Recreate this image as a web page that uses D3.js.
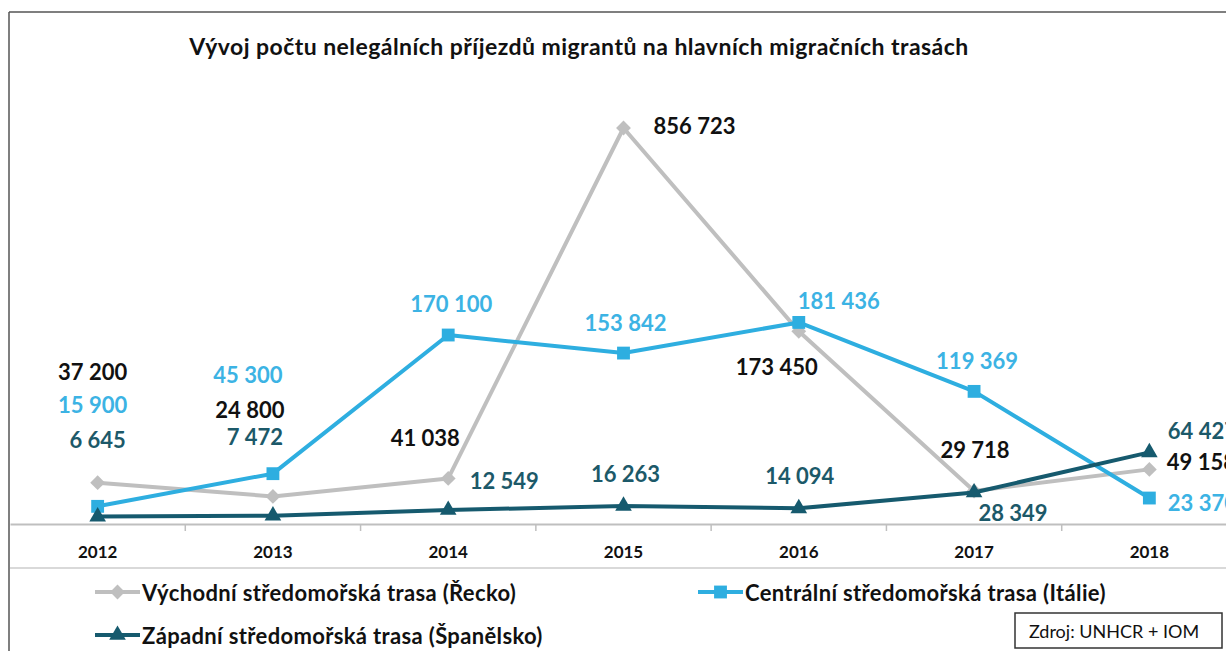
<!DOCTYPE html>
<html>
<head>
<meta charset="utf-8">
<script src="https://cdn.jsdelivr.net/npm/d3@7"></script>
<style>
  body { margin: 0; background: #fff; }
  svg text { font-family: Lato, "Open Sans", sans-serif; }
</style>
</head>
<body>
<div id="chart"></div>
<script>
"use strict"

// data
let years = ["2012", "2013", "2014", "2015", "2016", "2017", "2018"];
let seriesNames = [
    "Východní středomořská trasa (Řecko)",
    "Centrální středomořská trasa (Itálie)",
    "Západní středomořská trasa (Španělsko)"
];
let greece = [37200, 24800, 41038, 856723, 173450, 29718, 49158];
let italy = [15900, 45300, 170100, 153842, 181436, 119369, 23370];
let spain = [6645, 7472, 12549, 16263, 14094, 28349, 64427];
let titleText = "Vývoj počtu nelegálních příjezdů migrantů na hlavních migračních trasách";
let sourceText = "Zdroj: UNHCR + IOM";

// label placement relative to each point (dx, dy)
let greeceLabelPos = [[-5, -111], [-23, -87], [-23, -41], [71, -3], [-22, 35], [1, -41], [52, -8]];
let italyLabelPos = [[-5, -102], [-25, -99], [3, -32], [2, -31], [40, -22], [3, -31], [53, 4]];
let spainLabelPos = [[0, -77], [-18, -79], [56, -30], [2, -32], [1, -33], [39, 20], [53, -22]];

let width = 1226, height = 651;

let svg = d3.select("#chart").append("svg")
    .attr("width", width)
    .attr("height", height)

// frame
svg.append("line").attr("x1", 9).attr("x2", width).attr("y1", 12).attr("y2", 12)
    .style("stroke", "#555").style("stroke-width", 1.5)
svg.append("line").attr("x1", 9).attr("x2", 9).attr("y1", 12).attr("y2", height)
    .style("stroke", "#555").style("stroke-width", 1.5)

svg.append("text")
    .attr("x", 579)
    .attr("y", 55)
    .attr("text-anchor", "middle")
    .style("font-size", "23px")
    .style("letter-spacing", "0.45px")
    .style("font-weight", "bold")
    .style("fill", "#111")
    .text(titleText)

let x = d3.scaleBand()
    .domain(years)
    .range([10, 1237])
    .paddingInner(0)
    .paddingOuter(0);

let cx = function(d){ return x(d) + x.bandwidth() / 2; }

// linear up to 200 000, compressed above (the 2015 peak)
let y = d3.scaleLinear()
    .domain([0, 200000, 856723])
    .range([524, 301.8, 128]);

// axis
let xAxis = d3.axisBottom(x).tickSize(0).tickPadding(22);
let axisG = svg.append("g")
    .attr("transform", "translate(0," + y(0) + ")")
    .call(xAxis);
axisG.select(".domain").style("stroke", "#bfbfbf").style("stroke-width", 2);
axisG.selectAll("text")
    .style("font-size", "17px")
    .style("font-weight", "bold")
    .style("fill", "#111")
    .style("font-family", "Lato, sans-serif");

// category boundary ticks
svg.append("g").selectAll("line")
    .data(years.slice(1))
    .enter().append("line")
    .attr("x1", function(d){ return x(d); })
    .attr("x2", function(d){ return x(d); })
    .attr("y1", y(0))
    .attr("y2", y(0) + 7)
    .style("stroke", "#bfbfbf")
    .style("stroke-width", 1.5)

// separator under year labels
svg.append("line").attr("x1", 10).attr("x2", width).attr("y1", 568).attr("y2", 568)
    .style("stroke", "#d9d9d9").style("stroke-width", 2)

let series = [
    { name: seriesNames[0], values: greece, color: "#bfbfbf", labelColor: "#111", symbol: "diamond", labels: greeceLabelPos },
    { name: seriesNames[1], values: italy, color: "#2eaee0", labelColor: "#3cb3e4", symbol: "square", labels: italyLabelPos },
    { name: seriesNames[2], values: spain, color: "#165a6e", labelColor: "#1c5969", symbol: "triangle", labels: spainLabelPos }
];

function marker(sel, type, color){
    if(type == "diamond"){
        sel.attr("d", d3.symbol().type(d3.symbolSquare).size(110)())
            .attr("transform", function(){ return d3.select(this).attr("transform") + " rotate(45)"; })
    }else if(type == "square"){
        sel.attr("d", d3.symbol().type(d3.symbolSquare).size(165)())
    }else{
        sel.attr("d", d3.symbol().type(d3.symbolTriangle).size(120)())
    }
    sel.style("fill", color)
}

let line = d3.line()
    .x(function(d, i){ return cx(years[i]); })
    .y(function(d){ return y(d); });

for(let s = 0; s < series.length; s++){
    let ser = series[s];
    let g = svg.append("g");
    g.append("path")
        .datum(ser.values)
        .attr("d", line)
        .style("fill", "none")
        .style("stroke", ser.color)
        .style("stroke-width", 4)
        .style("stroke-linejoin", "round")

    g.selectAll("path.pt")
        .data(ser.values)
        .enter().append("path")
        .attr("class", "pt")
        .attr("transform", function(d, i){ return "translate(" + cx(years[i]) + "," + y(d) + ")"; })
        .each(function(){ marker(d3.select(this), ser.symbol, ser.color); })
}

// labels drawn after all lines
for(let s = 0; s < series.length; s++){
    let ser = series[s];
    svg.append("g").selectAll("text")
        .data(ser.values)
        .enter().append("text")
        .attr("x", function(d, i){ return cx(years[i]) + ser.labels[i][0]; })
        .attr("y", function(d, i){ return y(d) + ser.labels[i][1]; })
        .attr("text-anchor", "middle")
        .attr("dominant-baseline", "central")
        .style("font-size", "22px")
        .style("font-weight", "bold")
        .style("fill", ser.labelColor)
        .text(function(d){ return d3.format(",")(d).replace(/,/g, " "); })
}

// legend
let legendPos = [[95, 592], [698, 592], [95, 635]];
for(let s = 0; s < series.length; s++){
    let ser = series[s];
    let lg = svg.append("g").attr("transform", "translate(" + legendPos[s][0] + "," + legendPos[s][1] + ")");
    lg.append("line").attr("x1", 0).attr("x2", 45).attr("y1", 0).attr("y2", 0)
        .style("stroke", ser.color).style("stroke-width", 4)
    let m = lg.append("path").attr("transform", "translate(22.5,0)");
    marker(m, ser.symbol, ser.color);
    lg.append("text")
        .attr("x", 47)
        .attr("y", 0)
        .attr("dominant-baseline", "central")
        .style("font-size", "22px")
        .style("letter-spacing", "0.35px")
        .style("font-weight", "bold")
        .style("fill", "#111")
        .text(ser.name)
}

// source box
svg.append("rect").attr("x", 1015).attr("y", 613).attr("width", 207).attr("height", 35)
    .style("fill", "#fff").style("stroke", "#333").style("stroke-width", 1.5)
svg.append("text")
    .attr("x", 1114)
    .attr("y", 631)
    .attr("text-anchor", "middle")
    .attr("dominant-baseline", "central")
    .style("font-size", "18px")
    .style("fill", "#111")
    .text(sourceText)
</script>
</body>
</html>
